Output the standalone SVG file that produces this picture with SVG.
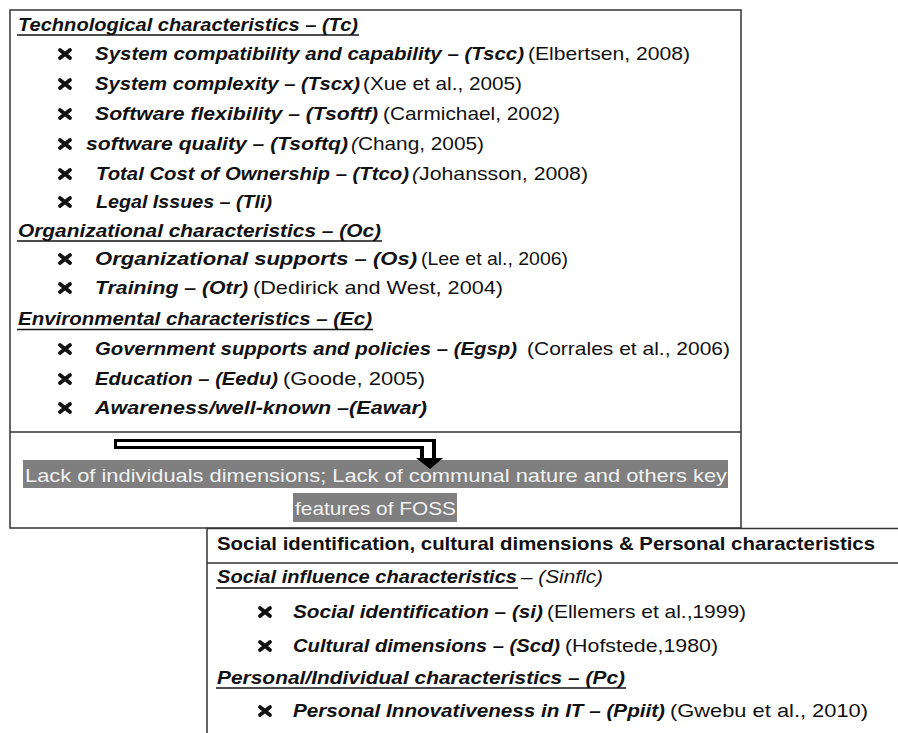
<svg xmlns="http://www.w3.org/2000/svg" width="898" height="733" viewBox="0 0 898 733">
<style>
text{font-family:"Liberation Sans",Arial,sans-serif;font-size:19px;fill:#111}
.bi{font-weight:bold;font-style:italic}
.b{font-weight:bold}
.i{font-style:italic}
.hl{fill:#f2f2f2}
.frame{fill:none;stroke:#333;stroke-width:1.5}
.ul{stroke:#111;stroke-width:1.5}
</style>
<defs>
<path id="bx" d="M-5,-4 L5,4 M5,-4 L-5,4" stroke="#111" stroke-width="3.8" stroke-linecap="round" fill="none"/>
</defs>
<rect width="898" height="733" fill="#fff"/>

<g id="top-box">
<rect class="frame" x="10" y="10" width="731" height="518"/>
<line class="frame" x1="10" y1="432" x2="741" y2="432"/>
<text class="bi" x="18" y="31" textLength="340" lengthAdjust="spacingAndGlyphs">Technological characteristics – (Tc)</text>
<line class="ul" x1="17" y1="35" x2="359" y2="35"/>
<use href="#bx" x="65" y="54"/>
<text class="bi" x="95" y="60" textLength="429" lengthAdjust="spacingAndGlyphs">System compatibility and capability – (Tscc)</text>
<text x="528" y="60" textLength="162" lengthAdjust="spacingAndGlyphs">(Elbertsen, 2008)</text>
<use href="#bx" x="65" y="84"/>
<text class="bi" x="95" y="90" textLength="265" lengthAdjust="spacingAndGlyphs">System complexity – (Tscx)</text>
<text x="363" y="90" textLength="159" lengthAdjust="spacingAndGlyphs">(Xue et al., 2005)</text>
<use href="#bx" x="65" y="114"/>
<text class="bi" x="95" y="120" textLength="283" lengthAdjust="spacingAndGlyphs">Software flexibility – (Tsoftf)</text>
<text x="383" y="120" textLength="177" lengthAdjust="spacingAndGlyphs">(Carmichael, 2002)</text>
<use href="#bx" x="65" y="144"/>
<text class="bi" x="86" y="150" textLength="262" lengthAdjust="spacingAndGlyphs">software quality – (Tsoftq)</text>
<text x="351" y="150" textLength="133" lengthAdjust="spacingAndGlyphs"><tspan class="i">(</tspan>Chang, 2005)</text>
<use href="#bx" x="65" y="174"/>
<text class="bi" x="96" y="180" textLength="313" lengthAdjust="spacingAndGlyphs">Total Cost of Ownership – (Ttco)</text>
<text x="412" y="180" textLength="176" lengthAdjust="spacingAndGlyphs"><tspan class="i">(</tspan>Johansson, 2008)</text>
<use href="#bx" x="65" y="202"/>
<text class="bi" x="96" y="208" textLength="176" lengthAdjust="spacingAndGlyphs">Legal Issues – (Tli)</text>

<text class="bi" x="18" y="237" textLength="363" lengthAdjust="spacingAndGlyphs">Organizational characteristics – (Oc)</text>
<line class="ul" x1="17" y1="241" x2="382" y2="241"/>
<use href="#bx" x="65" y="259"/>
<text class="bi" x="95" y="265" textLength="322" lengthAdjust="spacingAndGlyphs">Organizational supports – (Os)</text>
<text x="421" y="265" textLength="147" lengthAdjust="spacingAndGlyphs">(Lee et al., 2006)</text>
<use href="#bx" x="65" y="288"/>
<text class="bi" x="95" y="294" textLength="153" lengthAdjust="spacingAndGlyphs">Training – (Otr)</text>
<text x="253" y="294" textLength="250" lengthAdjust="spacingAndGlyphs">(Dedirick and West, 2004)</text>

<text class="bi" x="18" y="325" textLength="354" lengthAdjust="spacingAndGlyphs">Environmental characteristics – (Ec)</text>
<line class="ul" x1="17" y1="329.5" x2="373" y2="329.5"/>
<use href="#bx" x="65" y="349"/>
<text class="bi" x="95" y="355" textLength="422" lengthAdjust="spacingAndGlyphs">Government supports and policies – (Egsp)</text>
<text x="527" y="355" textLength="203" lengthAdjust="spacingAndGlyphs">(Corrales et al., 2006)</text>
<use href="#bx" x="65" y="379"/>
<text class="bi" x="95" y="385" textLength="183" lengthAdjust="spacingAndGlyphs">Education – (Eedu)</text>
<text x="283" y="385" textLength="142" lengthAdjust="spacingAndGlyphs">(Goode, 2005)</text>
<use href="#bx" x="65" y="408"/>
<text class="bi" x="95" y="414" textLength="332" lengthAdjust="spacingAndGlyphs">Awareness/well-known –(Eawar)</text>

<rect x="23" y="460" width="705" height="28" fill="#7f7f7f"/>
<rect x="293" y="493" width="164" height="29" fill="#7f7f7f"/>
<text class="hl" x="25" y="482" textLength="702" lengthAdjust="spacingAndGlyphs">Lack of individuals dimensions; Lack of communal nature and others key</text>
<text class="hl" x="295" y="515" textLength="161" lengthAdjust="spacingAndGlyphs">features of FOSS</text>
</g>

<g id="connectors">
<path d="M114,439 H436 V458 H420 V449 H114 Z" fill="#000"/>
<path d="M117,442 H432 V460 H424 V446 H117 Z" fill="#fff"/>
<polygon points="416,458 443,458 430,469" fill="#000"/>
</g>

<g id="bottom-box">
<line class="frame" x1="207" y1="528.5" x2="898" y2="528.5"/>
<line class="frame" x1="207" y1="528" x2="207" y2="733"/>
<line class="frame" x1="207" y1="563" x2="898" y2="563"/>
<text class="b" x="217" y="550" textLength="658" lengthAdjust="spacingAndGlyphs">Social identification, cultural dimensions &amp; Personal characteristics</text>
<text class="bi" x="217" y="583" textLength="300" lengthAdjust="spacingAndGlyphs">Social influence characteristics</text>
<line class="ul" x1="216" y1="588" x2="518" y2="588"/>
<text class="i" x="521" y="583" textLength="82" lengthAdjust="spacingAndGlyphs">– (Sinflc)</text>
<use href="#bx" x="265" y="612"/>
<text class="bi" x="293" y="618" textLength="250" lengthAdjust="spacingAndGlyphs">Social identification – (si)</text>
<text x="547" y="618" textLength="199" lengthAdjust="spacingAndGlyphs">(Ellemers et al.,1999)</text>
<use href="#bx" x="265" y="646"/>
<text class="bi" x="293" y="652" textLength="267" lengthAdjust="spacingAndGlyphs">Cultural dimensions – (Scd)</text>
<text x="565" y="652" textLength="153" lengthAdjust="spacingAndGlyphs">(Hofstede,1980)</text>
<text class="bi" x="217" y="684" textLength="408" lengthAdjust="spacingAndGlyphs">Personal/Individual characteristics – (Pc)</text>
<line class="ul" x1="216" y1="688" x2="626" y2="688"/>
<use href="#bx" x="265" y="711"/>
<text class="bi" x="293" y="717" textLength="372" lengthAdjust="spacingAndGlyphs">Personal Innovativeness in IT – (Ppiit)</text>
<text x="670" y="717" textLength="198" lengthAdjust="spacingAndGlyphs">(Gwebu et al., 2010)</text>
</g>
</svg>
